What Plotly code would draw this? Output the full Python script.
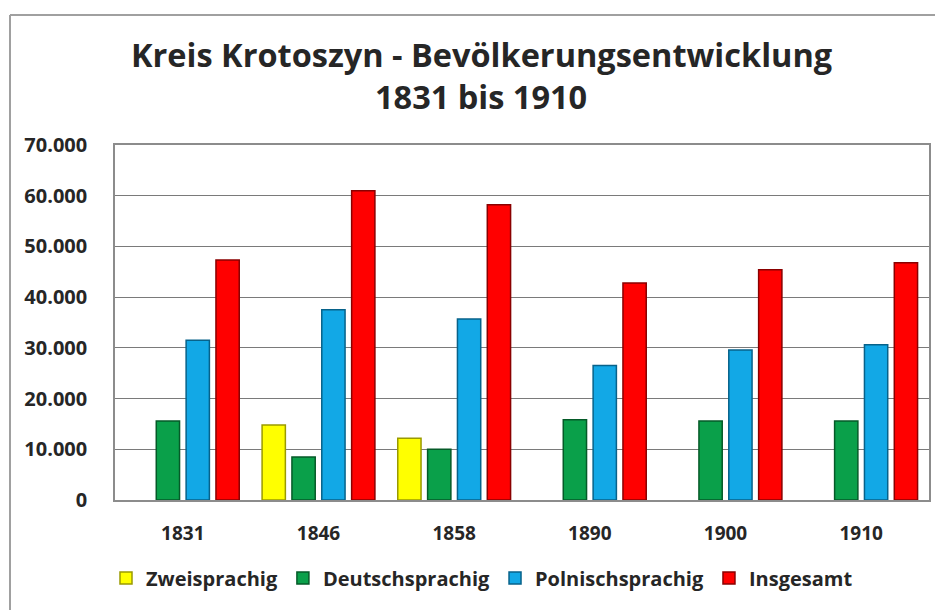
import plotly.graph_objects as go

years = ["1831", "1846", "1858", "1890", "1900", "1910"]
zweisprachig = [None, 14800, 12200, None, None, None]
deutschsprachig = [15600, 8500, 10000, 15800, 15600, 15600]
polnischsprachig = [31500, 37500, 35700, 26500, 29600, 30600]
insgesamt = [47300, 61000, 58200, 42800, 45400, 46800]

series = [
    ("Zweisprachig", zweisprachig, "#FFFF00", "#9a9a00"),
    ("Deutschsprachig", deutschsprachig, "#0AA04A", "#055a28"),
    ("Polnischsprachig", polnischsprachig, "#12A8E6", "#07628a"),
    ("Insgesamt", insgesamt, "#FF0000", "#8a0000"),
]

fig = go.Figure()
for name, vals, col, edge in series:
    fig.add_trace(go.Bar(
        x=years, y=vals, name="<b>" + name + "</b>",
        marker=dict(color=col, line=dict(color=edge, width=1.5)),
    ))

font_family = "Open Sans, Noto Sans, sans-serif"
OFF = 8  # page body margin of the browser
W, H = 943 - OFF, 610 - OFF
# plot area in screenshot pixels (reference)
PL, PR, PT, PB = 115, 929, 145, 500
L = PL - OFF
R = W - (PR - OFF)
T = PT - OFF
B = H - (PB - OFF)
pw = PR - PL
ph = PB - PT

def py(pix):
    return (PB - pix) / ph

def px(pix):
    return (pix - PL) / pw

fig.update_layout(
    width=W, height=H,
    margin=dict(l=L, r=R, t=T, b=B, autoexpand=False),
    paper_bgcolor="white", plot_bgcolor="white",
    barmode="group", bargap=0.12, bargroupgap=0.22,
    separators=",.",
    font=dict(family=font_family, color="#262626"),
    legend=dict(
        orientation="h", x=px(482), xanchor="center", xref="paper",
        y=py(578), yanchor="middle",
        font=dict(size=20, family=font_family, color="#262626"),
        traceorder="normal", itemwidth=30,
    ),
    xaxis=dict(
        showgrid=False, showline=True, linecolor="#8c8c8c", linewidth=1.5,
        mirror=True, ticks="", ticklabelstandoff=15, automargin=False,
        tickfont=dict(size=19, family=font_family, color="#262626"),
        tickprefix="<b>", ticksuffix="</b>",
    ),
    yaxis=dict(
        range=[0, 70000], dtick=10000, tickformat=",d",
        showgrid=True, gridcolor="#7a7a7a", gridwidth=1.2,
        showline=True, linecolor="#8c8c8c", linewidth=1.5, mirror=True,
        zeroline=False, ticks="", ticklabelstandoff=22, automargin=False,
        tickfont=dict(size=20, family=font_family, color="#262626"),
        tickprefix="<b>", ticksuffix="</b>",
    ),
)

title_lines = ["Kreis Krotoszyn - Bevölkerungsentwicklung", "1831 bis 1910"]
title_y = [55, 97]
for txt, yy in zip(title_lines, title_y):
    fig.add_annotation(
        text="<b>" + txt + "</b>", xref="paper", yref="paper",
        x=px(481), y=py(yy), xanchor="center", yanchor="middle",
        showarrow=False, font=dict(size=32.5, family=font_family, color="#262626"),
    )

# outer chart border: only the top and left edges lie inside the picture
border = dict(color="#a0a0a0", width=2)
fig.add_shape(type="line", xref="paper", yref="paper",
              x0=px(10), x1=px(1000), y0=py(15), y1=py(15),
              line=border, layer="below")
fig.add_shape(type="line", xref="paper", yref="paper",
              x0=px(10), x1=px(10), y0=py(15), y1=py(700),
              line=border, layer="below")

fig.write_html("out.html")
